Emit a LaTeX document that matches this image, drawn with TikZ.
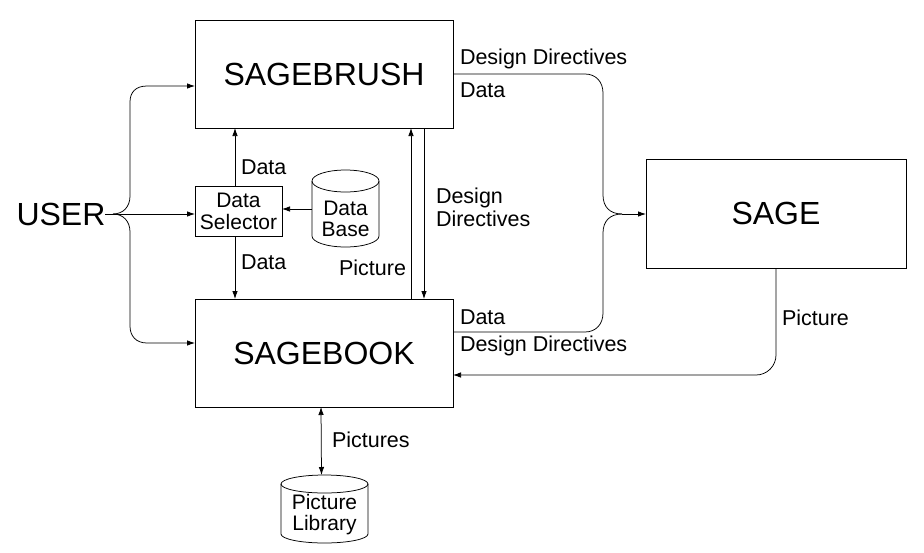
\documentclass[tikz,border=0pt]{standalone}
\usepackage{fontspec}
\setmainfont{Liberation Sans}
\usetikzlibrary{arrows.meta}
\begin{document}
\begin{tikzpicture}[x=1pt,y=-1pt, line width=0.75pt,
  >={Latex[length=8pt,width=5.5pt]},
  every node/.style={outer sep=0pt},
  bigbox/.style={draw, rectangle, inner sep=0pt, font=\fontsize{32}{36}\selectfont},
  lbl/.style={font=\fontsize{21.5}{23}\selectfont, inner sep=0pt, anchor=west, align=left},
  smallbox/.style={draw, rectangle, inner sep=0pt, align=center, font=\fontsize{21}{22}\selectfont},
  cylarea/.style={rectangle, draw=none, inner sep=0pt},
  cyltext/.style={inner sep=0pt, align=center, font=\fontsize{21}{21}\selectfont}]
\useasboundingbox (0,0) rectangle (924,552);

% main boxes
\node[bigbox, minimum width=258pt, minimum height=108pt] (sb) at (324,74) {SAGEBRUSH};
\node[bigbox, minimum width=258pt, minimum height=108pt] (bk) at (324,353) {SAGEBOOK};
\node[bigbox, minimum width=260pt, minimum height=109pt] (sage) at (776,213.5) {SAGE};
\node[inner sep=0pt, font=\fontsize{32}{36}\selectfont] (user) at (61,214) {USER};

% data selector
\node[smallbox, minimum width=87pt, minimum height=50pt] (ds) at (238.5,211) {Data\\Selector};

% data base cylinder
\node[cylarea, minimum width=67pt, minimum height=77pt] (db) at (345.5,208.5) {};
\draw ([yshift=-11pt]db.north west) -- ([yshift=11pt]db.south west)
  arc[start angle=180, end angle=360, x radius=33.5pt, y radius=11pt]
  -- ([yshift=-11pt]db.north east);
\draw ([yshift=-11pt]db.north) ellipse[x radius=33.5pt, y radius=11pt];
\node[cyltext] (dbt) at (345.5,219) {Data\\Base};

% picture library cylinder
\node[cylarea, minimum width=87pt, minimum height=68pt] (pl) at (324.5,509) {};
\draw ([yshift=-9pt]pl.north west) -- ([yshift=9pt]pl.south west)
  arc[start angle=180, end angle=360, x radius=43.5pt, y radius=9pt]
  -- ([yshift=-9pt]pl.north east);
\draw ([yshift=-9pt]pl.north) ellipse[x radius=43.5pt, y radius=9pt];
\node[cyltext] (plt) at (324.5,515) {Picture\\Library};

% left brace from USER
\coordinate (ltip) at (113,214);
\draw (user.east) -- (ltip);
\draw[->] (ltip) .. controls (123,214) and (130,207) .. (130,196) -- (130,102)
  .. controls (130,92) and (136,86) .. (147,86) -- (sb.west |- 0,86);
\draw[->] (ltip) .. controls (123,214) and (130,221) .. (130,232) -- (130,326)
  .. controls (130,336) and (136,343) .. (147,343) -- (bk.west |- 0,343);
\draw[->] (ltip) -- (ds.west |- ltip);

% data selector connections
\draw[->] (ds.north -| 235,0) -- (sb.south -| 235,0);
\draw[->] (ds.south -| 235,0) -- (bk.north -| 235,0);
\draw[->] (db.west |- 0,209) -- (ds.east |- 0,209);

% vertical lines between SAGEBRUSH and SAGEBOOK
\draw[->] ([xshift=87pt]bk.north) -- ([xshift=87pt]sb.south);
\draw[->] ([xshift=100pt]sb.south) -- ([xshift=100pt]bk.north);

% right brace to SAGE
\coordinate (rtip) at (622,214);
\draw (sb.east) -- (585,74) .. controls (596,74) and (603,82) .. (603,93) -- (603,195)
  .. controls (603,207) and (610,214) .. (rtip);
\draw (bk.east |- 0,332) -- (585,332) .. controls (596,332) and (603,324) .. (603,313) -- (603,233)
  .. controls (603,221) and (610,214) .. (rtip);
\draw[->] (rtip) -- (sage.west |- rtip);

% SAGE picture back to SAGEBOOK
\draw[->, rounded corners=20pt] (sage.south) |- (bk.east |- 0,375);

% pictures to library
\draw[<->] ([xshift=-3pt]bk.south) -- ([xshift=-3pt]pl.north);

% labels
\node[lbl] (l1) at (460,59) {Design Directives};
\node[lbl] (l2) at (460,90) {Data};
\node[lbl] (l3) at (241,167) {Data};
\node[lbl] (l4) at (241,262) {Data};
\node[lbl, anchor=east] (l5) at (406,268) {Picture};
\node[lbl] (l6) at (436,207) {Design\\Directives};
\node[lbl] (l7) at (460,317) {Data};
\node[lbl] (l8) at (460,346) {Design Directives};
\node[lbl] (l9) at (782,318) {Picture};
\node[lbl] (l10) at (332,440) {Pictures};
\end{tikzpicture}
\end{document}
